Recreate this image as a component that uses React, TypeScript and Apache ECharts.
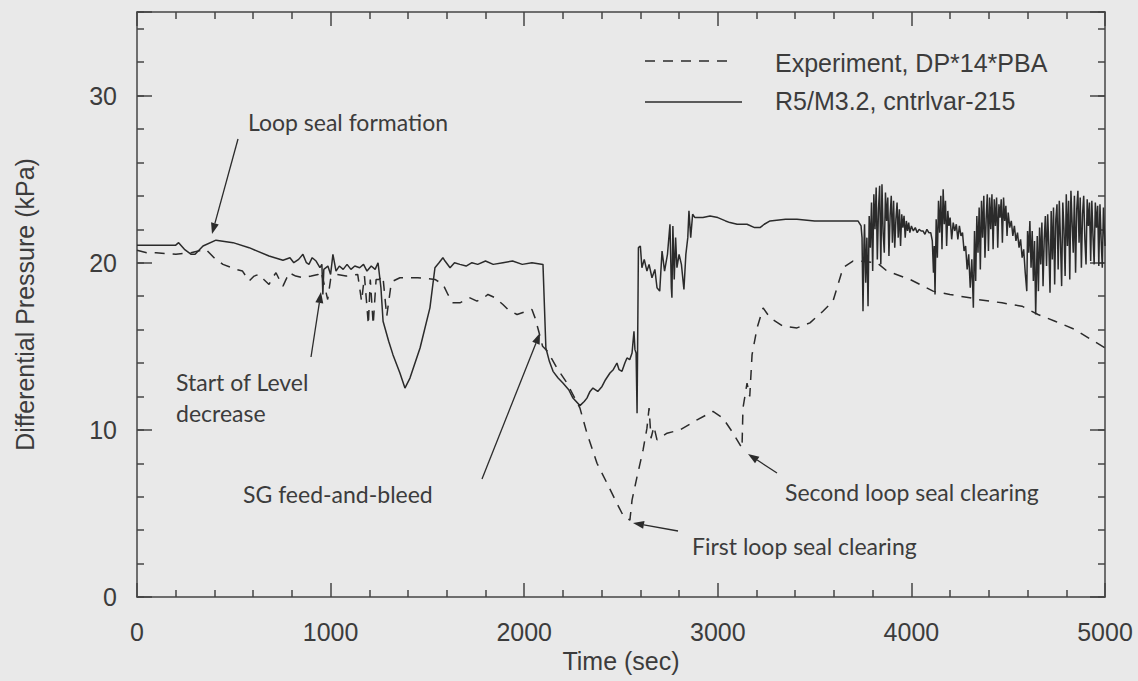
import React, { useEffect, useRef } from "react";
import * as echarts from "echarts";

// ---- Data ----
const simTime = [
  0, 100, 200, 215, 245, 280, 300, 341, 408, 496, 579, 682, 754, 790, 810, 835, 857, 875, 888, 905, 925, 945, 955, 960, 965,
  986, 1000, 1012, 1028, 1045, 1065, 1085, 1105, 1125, 1150, 1170, 1188, 1210, 1230, 1245, 1260, 1271, 1300, 1322, 1358,
  1384, 1410, 1462, 1513, 1539, 1560, 1580, 1591, 1617, 1640, 1668, 1700, 1730, 1760, 1800, 1840, 1890, 1940, 1990, 2040,
  2097, 2112, 2130, 2149, 2175, 2200, 2230, 2252, 2288, 2310, 2324, 2340, 2355, 2380, 2402, 2420, 2443, 2460, 2479, 2490,
  2505, 2520, 2531, 2545, 2557, 2567, 2572, 2578, 2583, 2590, 2600, 2608, 2620, 2634, 2645, 2660, 2675, 2686, 2700, 2712,
  2725, 2740, 2753, 2760, 2763, 2768, 2775, 2782, 2789, 2800, 2812, 2825, 2835, 2845, 2851, 2860, 2870, 2882, 2923, 2960,
  3000, 3040, 3063, 3100, 3151, 3190, 3218, 3240, 3270, 3350, 3409, 3500, 3580, 3650, 3724, 3740, 3745, 3750, 3755,
  3758, 3764, 3770, 3776, 3782, 3788, 3794, 3800, 3806, 3812, 3818, 3824, 3830, 3836, 3842, 3848, 3854, 3860, 3866, 3872,
  3878, 3884, 3890, 3896, 3902, 3908, 3914, 3920, 3926, 3932, 3938, 3944, 3950, 3956, 3962, 3968, 3974, 3980, 3986, 3992,
  4000, 4010, 4020, 4030, 4040, 4050, 4060, 4070, 4080, 4090, 4100, 4108, 4114, 4118, 4122, 4128, 4134, 4140, 4146, 4152,
  4158, 4164, 4170, 4176, 4182, 4188, 4194, 4200, 4208, 4216, 4224, 4232, 4240, 4248, 4256, 4264, 4272, 4280, 4288, 4296,
  4304, 4312, 4320, 4326, 4332, 4338, 4344, 4350, 4356, 4362, 4368, 4374, 4380, 4386, 4392, 4398, 4404, 4410, 4416, 4422,
  4428, 4434, 4440, 4446, 4452, 4458, 4464, 4470, 4476, 4482, 4488, 4494, 4500, 4508, 4516, 4524, 4532, 4540, 4548, 4556,
  4564, 4572, 4580, 4588, 4596, 4600, 4606, 4612, 4618, 4624, 4630, 4636, 4642, 4650, 4656, 4662, 4668, 4674, 4680, 4686,
  4692, 4698, 4704, 4710, 4716, 4722, 4728, 4734, 4740, 4746, 4752, 4758, 4764, 4770, 4776, 4782, 4788, 4794, 4800, 4806,
  4812, 4818, 4824, 4830, 4836, 4842, 4848, 4854, 4860, 4866, 4872, 4878, 4884, 4890, 4896, 4902, 4908, 4914, 4920, 4926,
  4932, 4938, 4944, 4950, 4956, 4962, 4968, 4974, 4980, 4986, 4992, 5000,
];
const simDp = [
  21.05, 21.05, 21.05, 21.2, 20.8, 20.5, 20.5, 21.0, 21.35, 21.2, 20.9, 20.4, 20.15, 20.3, 20.0, 20.2, 20.5, 20.0, 19.9, 20.3, 20.1, 19.7, 19.9, 18.1, 19.6,
  19.8, 19.3, 20.5, 19.5, 19.8, 19.6, 19.9, 19.6, 19.8, 19.7, 19.9, 19.5, 19.8, 19.6, 20.0, 18.5, 16.5, 15.3, 14.5, 13.4,
  12.5, 13.1, 14.9, 17.3, 19.7, 20.0, 20.3, 20.1, 19.7, 20.0, 19.9, 19.8, 20.0, 19.9, 20.1, 19.9, 20.0, 20.1, 19.9, 20.0,
  19.9, 14.9, 14.1, 13.5, 13.1, 12.8, 12.4, 11.9, 11.45, 11.7, 11.9, 12.3, 12.5, 12.3, 12.6, 13.0, 13.4, 13.6, 14.0, 13.6,
  13.5, 14.0, 14.3, 14.2, 14.6, 15.9, 14.8, 14.6, 11.0, 20.9, 21.0, 19.7, 20.2, 19.5, 19.9, 19.1, 19.6, 18.5, 18.3, 20.7,
  19.5, 20.5, 22.3, 18.5, 17.9, 22.2, 19.0, 21.5, 19.7, 20.5, 19.9, 18.4, 20.5, 21.5, 23.1, 21.5, 22.9, 22.7, 22.7, 22.8,
  22.7, 22.5, 22.4, 22.3, 22.3, 22.1, 22.1, 22.3, 22.5, 22.6, 22.6, 22.5, 22.5, 22.5, 22.5, 22.2, 21.5, 17.1, 21.0,
  22.3, 18.8, 21.5, 17.4, 22.8, 20.9, 23.6, 19.5, 24.1, 22.0, 24.5, 20.2, 23.2, 24.6, 19.9, 24.7, 21.8, 20.6, 24.2, 22.5,
  23.9, 20.4, 22.8, 24.0, 21.2, 23.7, 20.9, 22.6, 23.6, 21.5, 23.2, 21.0, 22.9, 22.1, 22.8, 21.5, 22.5, 21.9, 22.4, 21.8,
  22.2, 21.9, 22.1, 21.8, 22.0, 21.9, 21.9, 21.7, 22.0, 21.8, 21.8, 21.3, 19.4, 21.0, 18.1, 22.6, 20.3, 23.7, 21.8, 24.0,
  20.8, 24.4, 22.3, 23.7, 21.0, 23.1, 22.2, 22.7, 21.4, 22.4, 21.9, 22.3, 21.4, 22.2, 21.6, 21.8, 20.7, 21.0, 19.6, 20.5,
  18.5, 20.2, 17.3, 21.9, 18.9, 22.8, 20.6, 23.3, 19.6, 23.7, 21.5, 24.0, 20.3, 22.6, 24.1, 20.7, 23.9, 22.0, 24.1, 20.8,
  23.8, 22.2, 23.9, 20.9, 23.5, 22.7, 23.8, 21.2, 23.9, 22.5, 23.4, 21.6, 23.0, 22.1, 22.5, 21.6, 22.2, 21.3, 21.8, 20.9,
  21.4, 20.3, 20.8, 19.4, 18.3, 21.9, 20.6, 22.5, 19.7, 21.9, 18.9, 21.3, 16.9, 21.6, 18.3, 22.1, 19.9, 22.4, 18.6, 21.4,
  22.8, 19.8, 22.9, 21.0, 18.2, 23.1, 20.2, 23.3, 18.7, 22.6, 23.5, 19.6, 23.7, 21.3, 18.6, 23.6, 22.0, 19.2, 24.1, 21.0,
  23.7, 19.0, 24.3, 22.4, 20.6, 24.0, 19.4, 23.2, 24.3, 21.2, 23.9, 19.7, 22.9, 24.0, 21.4, 19.9, 23.8, 22.2, 23.6, 20.1,
  23.7, 21.6, 19.9, 23.6, 22.1, 23.4, 19.8, 23.5, 21.4, 19.7, 23.3, 21.0,
];
const expTime = [
  0, 50, 98, 150, 201, 279, 356, 398, 444, 511, 545, 579, 605, 630, 655, 682, 700, 718, 735, 754, 770, 785, 820, 857, 900,
  935, 950, 965, 985, 1000, 1030, 1080, 1140, 1160, 1175, 1195, 1205, 1220, 1235, 1250, 1270, 1290, 1310, 1322, 1358,
  1450, 1539, 1581, 1606, 1632, 1668, 1720, 1756, 1790, 1813, 1850, 1890, 1916, 1963, 2014, 2040, 2056, 2075, 2095, 2120,
  2169, 2221, 2288, 2324, 2376, 2428, 2479, 2510, 2546, 2557, 2583, 2614, 2634, 2645, 2655, 2670, 2686, 2738, 2805, 2893,
  2975, 3027, 3079, 3125, 3130, 3151, 3165, 3177, 3203, 3234, 3270, 3337, 3409, 3476, 3543, 3595, 3647, 3698, 3735, 3822,
  3874, 3993, 4112, 4199, 4302, 4344, 4468, 4571, 4654, 4742, 4845, 5000,
];
const expDp = [
  20.75, 20.6, 20.6, 20.55, 20.5, 20.6, 20.8, 20.3, 19.9, 19.6, 19.5, 18.9, 19.2, 19.3, 19.0, 18.7, 19.1, 19.4, 19.0, 18.6, 19.0, 19.4, 19.2, 19.1, 19.2,
  19.3, 19.5, 18.8, 17.8, 19.0, 19.3, 19.2, 19.3, 17.7, 19.2, 16.3, 19.0, 16.3, 19.0, 19.0, 19.2, 16.8, 18.5, 18.9, 19.1,
  19.1, 19.0, 18.7, 18.1, 17.6, 17.6, 17.9, 17.7, 17.9, 18.1, 17.9, 17.5, 17.2, 16.9, 17.1, 17.2, 16.7, 15.9, 15.0, 14.7,
  13.7, 12.8, 11.3, 9.8, 8.0, 6.8, 5.6, 4.9, 4.6, 5.8, 7.2, 8.8, 10.1, 11.3, 9.5, 10.2, 9.4, 9.8, 10.0, 10.6,
  11.1, 10.7, 9.8, 8.9, 11.3, 12.8, 12.0, 14.5, 16.1, 17.3, 16.7, 16.2, 16.1, 16.4, 17.1, 17.7, 19.7, 20.1, 20.1, 20.0,
  19.5, 19.0, 18.3, 18.1, 17.9, 17.8, 17.6, 17.4, 16.9, 16.5, 16.0, 14.9,
];
const seriesNames = ["Experiment, DP*14*PBA", "R5/M3.2, cntrlvar-215"];
const xTickValues = [0, 1000, 2000, 3000, 4000, 5000];
const yTickValues = [0, 10, 20, 30];

const INK = "#2b2b2b";
const TXT = "#3c3c3c";
const AXIS_FONT = "'Liberation Sans', Arial, sans-serif";
const NOTE_FONT = "Lato, 'Open Sans', sans-serif";

function arrow(x1: number, y1: number, x2: number, y2: number) {
  const dx = x2 - x1, dy = y2 - y1;
  const L = Math.hypot(dx, dy);
  const ux = dx / L, uy = dy / L;
  const hl = 11, hw = 4;
  const bx = x2 - ux * hl, by = y2 - uy * hl;
  return [
    { type: "line", shape: { x1, y1, x2: bx, y2: by }, style: { stroke: INK, lineWidth: 1.3 } },
    {
      type: "polygon",
      shape: { points: [[x2, y2], [bx - uy * hw, by + ux * hw], [bx + uy * hw, by - ux * hw]] },
      style: { fill: INK },
    },
  ];
}

function note(text: string, x: number, y: number) {
  return {
    type: "text",
    x,
    y,
    style: {
      text,
      fill: TXT,
      font: `23px ${NOTE_FONT}`,
      textAlign: "left",
      textVerticalAlign: "middle",
      align: "left",
      verticalAlign: "middle",
    },
  };
}

export default function App() {
  const ref = useRef<HTMLDivElement>(null);
  useEffect(() => {
    document.body.style.margin = "0";
    const chart = echarts.init(ref.current!, null, { renderer: "svg" });
    const lineStyle = { color: "#444", width: 1.5 };
    const baseX = {
      type: "value",
      min: 0,
      max: 5000,
      interval: 1000,
      splitLine: { show: false },
      axisLine: { show: true, onZero: false, lineStyle },
      axisTick: { show: true, inside: true, length: 14, lineStyle },
      minorTick: { show: true, splitNumber: 5, length: 7, lineStyle },
    };
    const minorY = {
      type: "value",
      min: 0,
      max: 35,
      interval: 2,
      splitLine: { show: false },
      axisLine: { show: true, onZero: false, lineStyle },
      axisTick: { show: true, inside: true, length: 7, lineStyle },
    };
    const majorY = {
      type: "value",
      min: 0,
      max: 35,
      interval: 10,
      splitLine: { show: false },
      axisLine: { show: false, onZero: false },
      axisTick: { show: true, inside: true, length: 15, lineStyle },
      axisLabel: { show: false },
    };
    chart.setOption({
      animation: false,
      backgroundColor: "#e9e9e9",
      grid: { left: 137, right: 33, top: 12, bottom: 84, containLabel: false },
      xAxis: [
        {
          ...baseX,
          position: "bottom",
          axisLabel: {
            show: true,
            margin: 22,
            fontSize: 25,
            fontFamily: AXIS_FONT,
            color: TXT,
            formatter: (v: number) => (xTickValues.includes(v) ? String(v) : ""),
          },
          name: "Time (sec)",
          nameLocation: "middle",
          nameGap: 50,
          nameTextStyle: { fontSize: 25, fontFamily: AXIS_FONT, color: TXT },
        },
        { ...baseX, position: "top", axisLabel: { show: false } },
      ],
      yAxis: [
        {
          ...minorY,
          position: "left",
          axisLabel: {
            show: true,
            margin: 20,
            fontSize: 25,
            fontFamily: AXIS_FONT,
            color: TXT,
            formatter: (v: number) => (yTickValues.includes(v) ? String(v) : ""),
          },
          name: "Differential Pressure (kPa)",
          nameLocation: "middle",
          nameGap: 100,
          nameRotate: 90,
          nameTextStyle: { fontSize: 25, fontFamily: AXIS_FONT, color: TXT },
        },
        { ...majorY, position: "left" },
        { ...minorY, position: "right", axisLabel: { show: false } },
        { ...majorY, position: "right" },
      ],
      series: [
        {
          type: "line",
          name: seriesNames[0],
          xAxisIndex: 0,
          yAxisIndex: 0,
          data: expTime.map((t, i) => [t, expDp[i]]),
          showSymbol: false,
          symbol: "none",
          lineStyle: { color: INK, width: 1.5, type: [10, 8] },
          z: 2,
        },
        {
          type: "line",
          name: seriesNames[1],
          xAxisIndex: 0,
          yAxisIndex: 0,
          data: simTime.map((t, i) => [t, simDp[i]]),
          showSymbol: false,
          symbol: "none",
          lineStyle: { color: INK, width: 1.5 },
          z: 3,
        },
      ],
      graphic: [
        { type: "line", shape: { x1: 645, y1: 61, x2: 735, y2: 61 }, style: { stroke: INK, lineWidth: 1.5, lineDash: [10, 8] } },
        { type: "line", shape: { x1: 645, y1: 102, x2: 742, y2: 102 }, style: { stroke: INK, lineWidth: 1.6 } },
        {
          type: "text",
          x: 775,
          y: 63,
          style: { text: seriesNames[0], fill: TXT, font: `25px ${AXIS_FONT}`, textVerticalAlign: "middle", verticalAlign: "middle" },
        },
        {
          type: "text",
          x: 775,
          y: 101,
          style: { text: seriesNames[1], fill: TXT, font: `25px ${AXIS_FONT}`, textVerticalAlign: "middle", verticalAlign: "middle" },
        },
        note("Loop seal formation", 248, 122),
        ...arrow(238, 139, 212, 234),
        note("Start of Level", 176, 382),
        note("decrease", 176, 413),
        ...arrow(311, 357, 321, 292),
        note("SG feed-and-bleed", 243, 494),
        ...arrow(482, 479, 540, 333),
        note("First loop seal clearing", 692, 546),
        ...arrow(678, 531, 633, 523),
        note("Second loop seal clearing", 785, 492),
        ...arrow(777, 473, 748, 454),
      ],
    });
    return () => chart.dispose();
  }, []);
  return <div ref={ref} style={{ position: "absolute", left: 0, top: 0, width: 1138, height: 681 }} />;
}
